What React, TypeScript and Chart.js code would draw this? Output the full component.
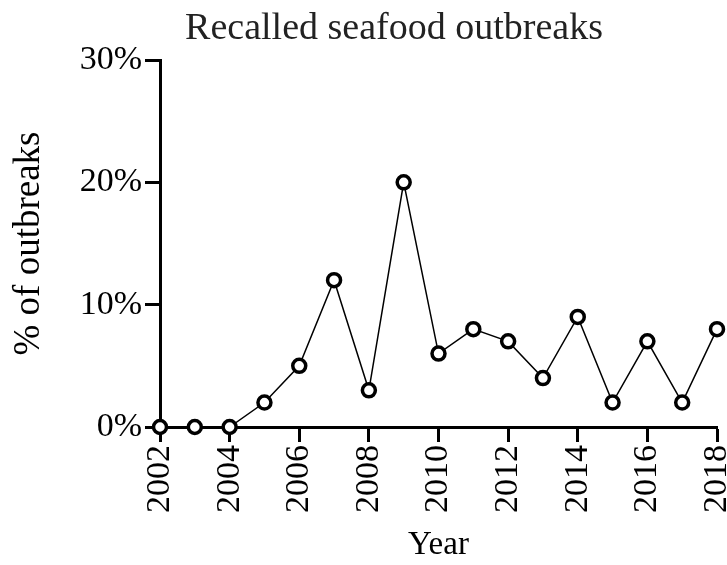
import React, { useEffect, useRef } from "react";
import { Chart, registerables } from "chart.js";

Chart.register(...registerables);

const years = [2002, 2003, 2004, 2005, 2006, 2007, 2008, 2009, 2010, 2011, 2012, 2013, 2014, 2015, 2016, 2017, 2018];
const percents = [0, 0, 0, 2, 5, 12, 3, 20, 6, 8, 7, 4, 9, 2, 7, 2, 8];
const xTickValues = [2002, 2004, 2006, 2008, 2010, 2012, 2014, 2016, 2018];
const yTicks = [0, 10, 20, 30];
const chartTitle = "Recalled seafood outbreaks";
const xTitle = "Year";
const yTitle = "% of outbreaks";

const FONT = "'Liberation Serif', 'Times New Roman', serif";

export default function App() {
  const ref = useRef<HTMLCanvasElement | null>(null);
  useEffect(() => {
    document.body.style.margin = "0";
    const canvas = ref.current!;
    const titlePlugin = {
      id: "customTitle",
      afterDraw(chart: any) {
        const ctx = chart.ctx;
        ctx.save();
        ctx.font = `38px ${FONT}`;
        ctx.fillStyle = "#222";
        ctx.textAlign = "center";
        ctx.textBaseline = "middle";
        ctx.fillText(chartTitle, chart.width / 2 + 30.5, 29);
        ctx.restore();
      },
    };
    const chart = new Chart(canvas, {
      type: "line",
      data: {
        datasets: [
          {
            data: years.map((y, i) => ({ x: y, y: percents[i] })),
            borderColor: "#000",
            borderWidth: 1.5,
            pointRadius: 6.5,
            pointBorderWidth: 3.5,
            pointBackgroundColor: "#fff",
            pointBorderColor: "#000",
            tension: 0,
            clip: false as any,
          },
        ],
      },
      options: {
        animation: false,
        responsive: false,
        layout: { padding: { top: 60, right: 9, left: 0, bottom: 0 } },
        plugins: { legend: { display: false }, tooltip: { enabled: false }, title: { display: false } },
        scales: {
          x: {
            type: "linear",
            min: 2002,
            max: 2018,
            afterBuildTicks(scale: any) {
              scale.ticks = xTickValues.map((v) => ({ value: v }));
            },
            afterFit(scale: any) {
              scale.height = 138;
              scale.paddingRight = 0;
              scale.paddingLeft = 0;
            },
            grid: {
              display: true,
              drawOnChartArea: false,
              drawTicks: true,
              tickLength: 15,
              tickWidth: 3,
              tickColor: "#000",
            },
            border: { display: true, color: "#000", width: 3 },
            ticks: {
              color: "#000",
              font: { family: FONT, size: 34 },
              minRotation: 90,
              maxRotation: 90,
              padding: 3,
              callback: (v: any) => String(v),
            },
            title: {
              display: true,
              text: xTitle,
              color: "#000",
              font: { family: FONT, size: 33 },
              padding: { top: 0, bottom: 0 },
            },
          },
          y: {
            min: 0,
            max: 30,
            afterBuildTicks(scale: any) {
              scale.ticks = yTicks.map((v) => ({ value: v }));
            },
            afterFit(scale: any) {
              scale.width = 160;
            },
            grid: {
              display: true,
              drawOnChartArea: false,
              drawTicks: true,
              tickLength: 15,
              tickWidth: 3,
              tickColor: "#000",
            },
            border: { display: true, color: "#000", width: 3 },
            ticks: {
              color: "#000",
              font: { family: FONT, size: 34 },
              padding: 3,
              callback: (v: any) => `${v}%`,
            },
            title: {
              display: true,
              text: yTitle,
              color: "#000",
              font: { family: FONT, size: 37 },
              padding: { top: 7, bottom: 0 },
            },
          },
        },
      },
      plugins: [titlePlugin],
    } as any);
    return () => chart.destroy();
  }, []);
  return <canvas ref={ref} width={727} height={565} style={{ display: "block" }} />;
}
